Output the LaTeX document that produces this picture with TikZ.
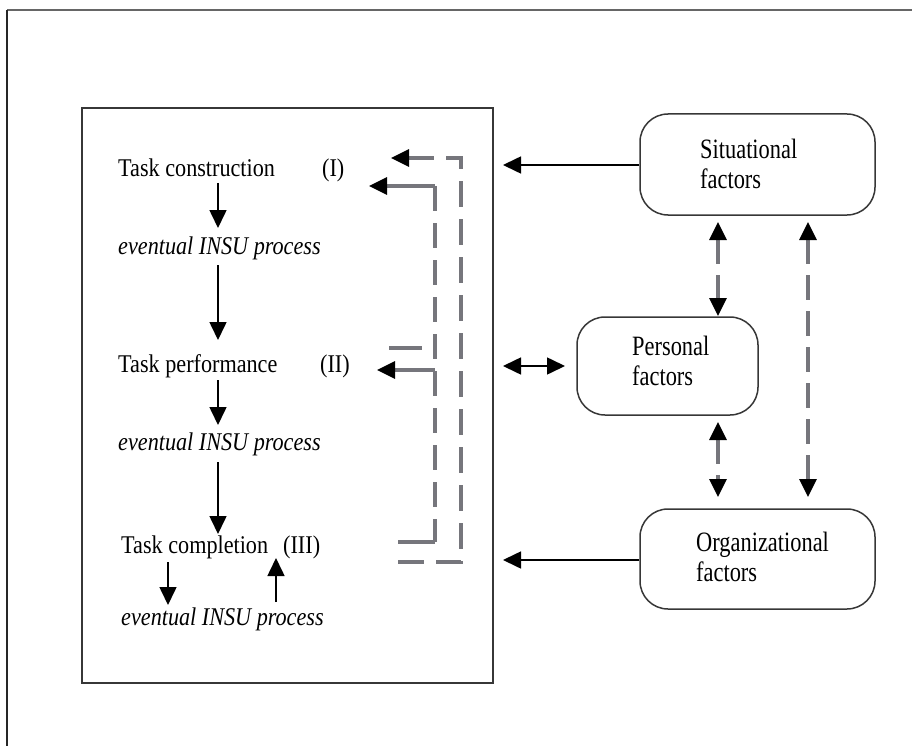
\documentclass[tikz,border=0pt]{standalone}
\usepackage{fontspec}
\setmainfont{Liberation Serif}[FakeStretch=0.87]
\newfontfamily\boxfont{Liberation Serif}[FakeStretch=0.8]
\usetikzlibrary{arrows.meta}
\definecolor{lgray}{RGB}{118,118,124}
\definecolor{boxline}{RGB}{55,55,55}
\begin{document}
\begin{tikzpicture}[x=1pt,y=-1pt,
  txt/.style={font=\fontsize{25.5}{30}\selectfont, inner sep=0pt, anchor=base west},
  itxt/.style={txt, font=\fontsize{25.5}{30}\selectfont\itshape},
  factor/.style={draw=boxline, line width=1.5pt, rounded corners=28pt, inner sep=0pt},
  ftxt/.style={font=\boxfont\fontsize{28}{30}\selectfont, align=left, inner sep=0pt},
  blk/.style={draw=black, line width=1.6pt, -{Triangle[length=18pt,width=17pt]}},
  blkboth/.style={draw=black, line width=1.6pt, {Triangle[length=18pt,width=17pt]}-{Triangle[length=18pt,width=17pt]}},
  gline/.style={draw=lgray, line width=3.1pt},
  gdash/.style={gline, dash pattern=on 25pt off 12pt},
  gboth/.style={gline, dash pattern=on 25pt off 11pt, {Triangle[length=18pt,width=17pt,color=black]}-{Triangle[length=18pt,width=17pt,color=black]}},
]
\useasboundingbox (0,0) rectangle (912,746);

% page frame (top and left edges)
\draw[draw=black!60, line width=2pt] (7,10) -- (912,10);
\draw[draw=black!85, line width=2pt] (7,10) -- (7,746);

% task box
\draw[draw=boxline, line width=1.7pt] (82,108) rectangle (493,683);

% task stages
\node[txt] (tcon) at (118,176) {Task construction};
\node[txt] (tconN) at (322,176) {(I)};
\node[itxt] (ins1) at (118,254) {eventual INSU process};
\node[txt] (tper) at (118,372) {Task performance};
\node[txt] (tperN) at (320,372) {(II)};
\node[itxt] (ins2) at (118,450) {eventual INSU process};
\node[txt] (tcom) at (121,553) {Task completion};
\node[txt] (tcomN) at (283,553) {(III)};
\node[itxt] (ins3) at (121,625) {eventual INSU process};

% column arrows
\coordinate (c1a) at (218,183); \coordinate (c1b) at (218,228);
\coordinate (c2a) at (218,265); \coordinate (c2b) at (218,340);
\coordinate (c3a) at (218,380); \coordinate (c3b) at (218,425);
\coordinate (c4a) at (218,462); \coordinate (c4b) at (218,534);
\coordinate (c5a) at (168,562); \coordinate (c5b) at (168,605);
\coordinate (c6a) at (276,602); \coordinate (c6b) at (276,558);
\draw[blk] (c1a) -- (c1b);
\draw[blk] (c2a) -- (c2b);
\draw[blk] (c3a) -- (c3b);
\draw[blk] (c4a) -- (c4b);
\draw[blk] (c5a) -- (c5b);
\draw[blk] (c6a) -- (c6b);

% feedback lines (outer)
\coordinate (o1) at (391,158);
\coordinate (o2) at (461,158);
\coordinate (o3) at (461,562);
\coordinate (o4) at (397,562);
\draw[gline, dash pattern=on 26pt off 12pt, {Triangle[length=18pt,width=17pt,color=black]}-] (o1) -- (o2) -- (o3) -- (o4);

% feedback lines (inner)
\coordinate (i1) at (369,186);
\coordinate (i2) at (435,186);
\coordinate (i3) at (435,542);
\coordinate (i4) at (398,542);
\draw[gline, {Triangle[length=18pt,width=17pt,color=black]}-] (i1) -- (i2);
\draw[gdash] (i2) -- (i3);
\draw[gline] (i3) -- (i4);
\coordinate (p1) at (377,370);
\coordinate (p2) at (435,370);
\draw[gline, {Triangle[length=18pt,width=17pt,color=black]}-] (p1) -- (p2);
\coordinate (s1) at (389,348);
\coordinate (s2) at (422,348);
\draw[gline] (s1) -- (s2);

% factor boxes
\node[factor, minimum width=235pt, minimum height=101pt] (sit) at (757.5,164.5) {};
\node[factor, minimum width=181pt, minimum height=98pt] (per) at (667.5,366) {};
\node[factor, minimum width=235pt, minimum height=100pt] (org) at (757.5,559) {};
\node[ftxt, anchor=base west] (sitT1) at (700,159) {Situational};
\node[ftxt, anchor=base west] (sitT2) at (700,189) {factors};
\node[ftxt, anchor=base west] (perT1) at (632,355) {Personal};
\node[ftxt, anchor=base west] (perT2) at (632,385) {factors};
\node[ftxt, anchor=base west] (orgT1) at (696,551) {Organizational};
\node[ftxt, anchor=base west] (orgT2) at (696,581) {factors};

% influences on the task box
\coordinate (sitA) at (503,165);
\coordinate (orgA) at (503,560);
\coordinate (perL) at (503,366);
\coordinate (perR) at (565,366);
\draw[blk] (sit.west |- sitA) -- (sitA);
\draw[blk] (org.west |- orgA) -- (orgA);
\draw[blkboth] (perL) -- (perR);

% interactions between factors
\coordinate (v1a) at (718,222); \coordinate (v1b) at (718,316);
\coordinate (v2a) at (718,422); \coordinate (v2b) at (718,497);
\coordinate (v3a) at (808,222); \coordinate (v3b) at (808,497);
\draw[gboth] (v1a) -- (v1b);
\draw[gboth] (v2a) -- (v2b);
\draw[gboth] (v3a) -- (v3b);
\end{tikzpicture}
\end{document}
